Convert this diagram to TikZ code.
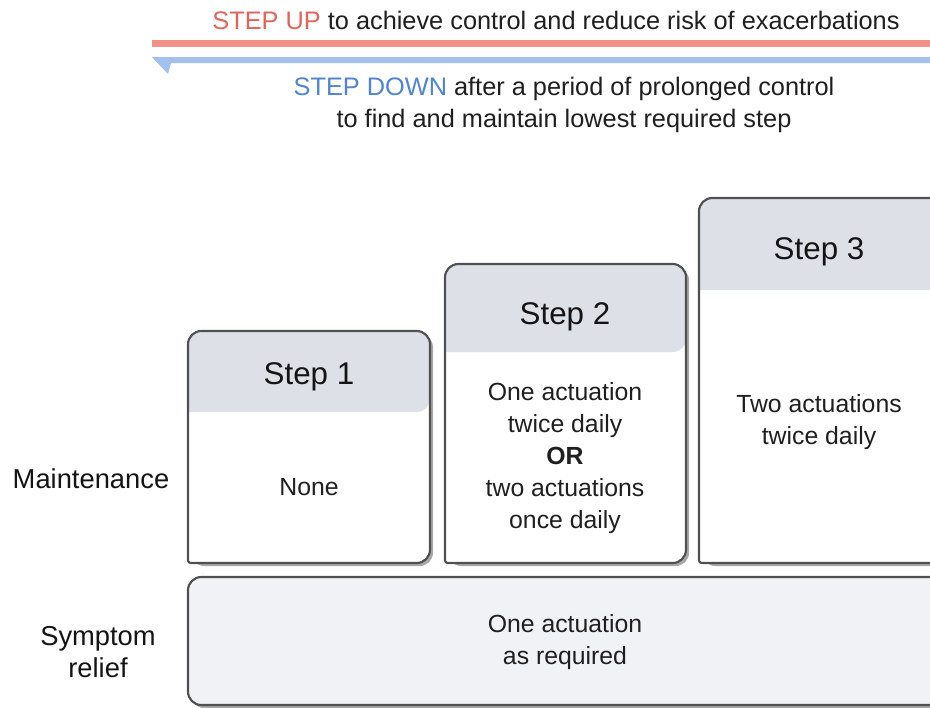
\documentclass[tikz,border=0pt]{standalone}
\usepackage{fontspec}
\setmainfont{Liberation Sans}
\definecolor{upred}{HTML}{E0655C}
\definecolor{upbar}{HTML}{F2918A}
\definecolor{downblue}{HTML}{4F86CF}
\definecolor{downbar}{HTML}{A3C0EE}
\definecolor{headfill}{HTML}{DEE0E7}
\definecolor{relieffill}{HTML}{F1F2F6}
\definecolor{boxborder}{HTML}{505050}
\definecolor{shadowc}{HTML}{A8A8A8}
\tikzset{
  bodytext/.style={font=\fontsize{18.6}{24}\selectfont, align=center, text=black!88},
  labeltext/.style={font=\fontsize{20.5}{24}\selectfont, align=center, text=black!92},
  toptext/.style={font=\fontsize{19}{23.5}\selectfont, align=center, text=black!88},
  titletext/.style={font=\fontsize{23.5}{28}\selectfont, text=black!92},
  boxline/.style={draw=boxborder, line width=1.6},
  shade/.style={fill=shadowc},
}
\newcommand\mystepbox[5]{%
  % #1 left, #2 top, #3 right, #4 header bottom, #5 bottom
  \fill[shade, rounded corners=10] (#1+3,#5+3) -- (#1+3,#2+3) -- (#3+3,#2+3) -- (#3+3,#5+3) -- cycle;
  \fill[white, rounded corners=10] (#1,#5) -- (#1,#2) -- (#3,#2) -- (#3,#5) [rounded corners=2] -- cycle;
  \fill[headfill, rounded corners=10] (#1,#4) -- (#1,#2) -- (#3,#2) -- (#3,#4) [sharp corners] -- cycle;
  \draw[boxline, rounded corners=10] (#1,#5) -- (#1,#2) -- (#3,#2) -- (#3,#5) [rounded corners=2] -- cycle;
}
\begin{document}
\begin{tikzpicture}[x=0.75pt, y=-0.75pt]
\useasboundingbox (0,0) rectangle (930,707);
\clip (0,0) rectangle (930,707);
\fill[white] (0,0) rectangle (930,707);

% top arrows
\fill[upbar] (152,40) rectangle (940,47);
\fill[downbar] (152,57) -- (940,57) -- (940,63) -- (171,63) -- (168,74) -- cycle;

\node[toptext] (uptext) at (556,20) {{\color{upred}STEP UP} to achieve control and reduce risk of exacerbations};
\node[toptext] (downtext) at (564,105) {{\color{downblue}STEP DOWN} after a period of prolonged control\\to find and maintain lowest required step};

% step boxes
\mystepbox{188}{331}{430}{412}{563}
\mystepbox{445}{264}{686}{352}{563}
\mystepbox{699}{198}{960}{290}{563}

% symptom relief box
\fill[shade, rounded corners=10] (191,580) rectangle (963,708);
\filldraw[boxline, fill=relieffill, rounded corners=10] (188,577) rectangle (960,705);

% titles
\node[titletext] (s1) at (309,377) {Step 1};
\node[titletext] (s2) at (565,317) {Step 2};
\node[titletext] (s3) at (819,252) {Step 3};

% contents
\node[bodytext] (c1) at (309,487) {None};
\node[bodytext] (c2) at (565,458) {One actuation\\twice daily\\\textbf{OR}\\two actuations\\once daily};
\node[bodytext] (c3) at (819,422) {Two actuations\\twice daily};
\node[bodytext] (cr) at (565,642) {One actuation\\as required};

% row labels
\node[labeltext] (lm) at (91,479) {Maintenance};
\node[labeltext] (lr) at (98,652) {Symptom\\relief};
\end{tikzpicture}
\end{document}
